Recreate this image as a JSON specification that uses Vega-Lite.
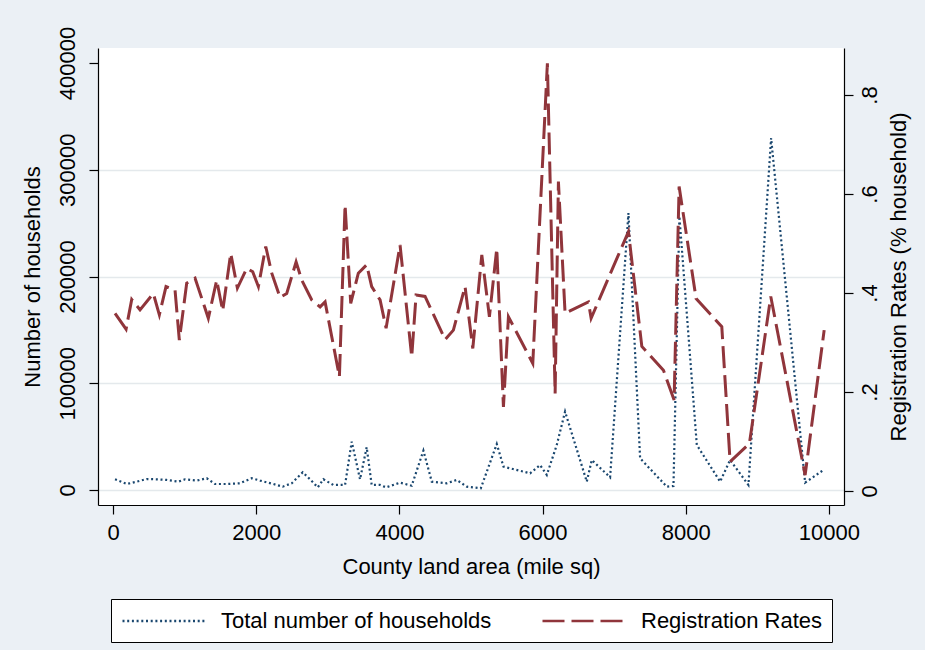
{
  "$schema": "https://vega.github.io/schema/vega-lite/v6.json",
  "autosize": {"type": "none"},
  "width": 746,
  "height": 457,
  "padding": {"left": 98, "top": 48, "right": 81, "bottom": 145},
  "background": "#EBF0F5",
  "config": {
    "view": {"stroke": null, "fill": "#ffffff"},
    "font": "Liberation Sans",
    "axis": {
      "domainColor": "#000000",
      "tickColor": "#000000",
      "labelColor": "#000000",
      "titleColor": "#000000",
      "labelFont": "Liberation Sans",
      "titleFont": "Liberation Sans",
      "titleFontWeight": "normal",
      "labelFontSize": 22,
      "titleFontSize": 22,
      "tickSize": 9,
      "domainWidth": 1.2,
      "tickWidth": 1.2
    }
  },
  "data": {
    "values": [
      {"series": "Total number of households", "area": 28, "value": 10000},
      {"series": "Total number of households", "area": 191, "value": 5600},
      {"series": "Total number of households", "area": 331, "value": 7800},
      {"series": "Total number of households", "area": 471, "value": 10300},
      {"series": "Total number of households", "area": 610, "value": 10000},
      {"series": "Total number of households", "area": 750, "value": 9400},
      {"series": "Total number of households", "area": 912, "value": 7800},
      {"series": "Total number of households", "area": 1006, "value": 10000},
      {"series": "Total number of households", "area": 1169, "value": 8800},
      {"series": "Total number of households", "area": 1309, "value": 11000},
      {"series": "Total number of households", "area": 1425, "value": 5600},
      {"series": "Total number of households", "area": 1588, "value": 5600},
      {"series": "Total number of households", "area": 1774, "value": 6300},
      {"series": "Total number of households", "area": 1937, "value": 11000},
      {"series": "Total number of households", "area": 2053, "value": 8800},
      {"series": "Total number of households", "area": 2240, "value": 5600},
      {"series": "Total number of households", "area": 2370, "value": 3100},
      {"series": "Total number of households", "area": 2496, "value": 6300},
      {"series": "Total number of households", "area": 2650, "value": 16600},
      {"series": "Total number of households", "area": 2752, "value": 10000},
      {"series": "Total number of households", "area": 2860, "value": 2500},
      {"series": "Total number of households", "area": 2938, "value": 10000},
      {"series": "Total number of households", "area": 3078, "value": 4700},
      {"series": "Total number of households", "area": 3241, "value": 4700},
      {"series": "Total number of households", "area": 3334, "value": 45300},
      {"series": "Total number of households", "area": 3450, "value": 10000},
      {"series": "Total number of households", "area": 3543, "value": 40000},
      {"series": "Total number of households", "area": 3613, "value": 4700},
      {"series": "Total number of households", "area": 3730, "value": 4700},
      {"series": "Total number of households", "area": 3814, "value": 2500},
      {"series": "Total number of households", "area": 4009, "value": 6900},
      {"series": "Total number of households", "area": 4172, "value": 4000},
      {"series": "Total number of households", "area": 4335, "value": 36900},
      {"series": "Total number of households", "area": 4452, "value": 7800},
      {"series": "Total number of households", "area": 4661, "value": 6300},
      {"series": "Total number of households", "area": 4801, "value": 9400},
      {"series": "Total number of households", "area": 4941, "value": 3100},
      {"series": "Total number of households", "area": 5137, "value": 1600},
      {"series": "Total number of households", "area": 5360, "value": 43100},
      {"series": "Total number of households", "area": 5453, "value": 21900},
      {"series": "Total number of households", "area": 5825, "value": 15600},
      {"series": "Total number of households", "area": 5965, "value": 23400},
      {"series": "Total number of households", "area": 6059, "value": 14100},
      {"series": "Total number of households", "area": 6198, "value": 42200},
      {"series": "Total number of households", "area": 6314, "value": 73400},
      {"series": "Total number of households", "area": 6617, "value": 7800},
      {"series": "Total number of households", "area": 6687, "value": 28100},
      {"series": "Total number of households", "area": 6943, "value": 11900},
      {"series": "Total number of households", "area": 7199, "value": 259400},
      {"series": "Total number of households", "area": 7362, "value": 29700},
      {"series": "Total number of households", "area": 7735, "value": 3100},
      {"series": "Total number of households", "area": 7828, "value": 3700},
      {"series": "Total number of households", "area": 7911, "value": 256200},
      {"series": "Total number of households", "area": 8154, "value": 42200},
      {"series": "Total number of households", "area": 8480, "value": 7800},
      {"series": "Total number of households", "area": 8619, "value": 28100},
      {"series": "Total number of households", "area": 8875, "value": 4700},
      {"series": "Total number of households", "area": 9192, "value": 329700},
      {"series": "Total number of households", "area": 9667, "value": 6900},
      {"series": "Total number of households", "area": 9923, "value": 18700},
      {"series": "Registration Rates", "area": 28, "value": 0.359},
      {"series": "Registration Rates", "area": 182, "value": 0.327},
      {"series": "Registration Rates", "area": 261, "value": 0.387},
      {"series": "Registration Rates", "area": 377, "value": 0.366},
      {"series": "Registration Rates", "area": 563, "value": 0.399},
      {"series": "Registration Rates", "area": 647, "value": 0.356},
      {"series": "Registration Rates", "area": 740, "value": 0.413},
      {"series": "Registration Rates", "area": 866, "value": 0.406},
      {"series": "Registration Rates", "area": 926, "value": 0.305},
      {"series": "Registration Rates", "area": 1029, "value": 0.42},
      {"series": "Registration Rates", "area": 1146, "value": 0.43},
      {"series": "Registration Rates", "area": 1331, "value": 0.349},
      {"series": "Registration Rates", "area": 1448, "value": 0.426},
      {"series": "Registration Rates", "area": 1532, "value": 0.364},
      {"series": "Registration Rates", "area": 1644, "value": 0.48},
      {"series": "Registration Rates", "area": 1737, "value": 0.41},
      {"series": "Registration Rates", "area": 1868, "value": 0.45},
      {"series": "Registration Rates", "area": 1951, "value": 0.443},
      {"series": "Registration Rates", "area": 2030, "value": 0.413},
      {"series": "Registration Rates", "area": 2133, "value": 0.494},
      {"series": "Registration Rates", "area": 2217, "value": 0.44},
      {"series": "Registration Rates", "area": 2333, "value": 0.391},
      {"series": "Registration Rates", "area": 2426, "value": 0.399},
      {"series": "Registration Rates", "area": 2557, "value": 0.463},
      {"series": "Registration Rates", "area": 2636, "value": 0.426},
      {"series": "Registration Rates", "area": 2776, "value": 0.386},
      {"series": "Registration Rates", "area": 2892, "value": 0.372},
      {"series": "Registration Rates", "area": 2962, "value": 0.382},
      {"series": "Registration Rates", "area": 3162, "value": 0.231},
      {"series": "Registration Rates", "area": 3241, "value": 0.578},
      {"series": "Registration Rates", "area": 3320, "value": 0.379},
      {"series": "Registration Rates", "area": 3426, "value": 0.44},
      {"series": "Registration Rates", "area": 3543, "value": 0.457},
      {"series": "Registration Rates", "area": 3613, "value": 0.413},
      {"series": "Registration Rates", "area": 3730, "value": 0.386},
      {"series": "Registration Rates", "area": 3814, "value": 0.329},
      {"series": "Registration Rates", "area": 4009, "value": 0.497},
      {"series": "Registration Rates", "area": 4172, "value": 0.271},
      {"series": "Registration Rates", "area": 4233, "value": 0.396},
      {"series": "Registration Rates", "area": 4358, "value": 0.393},
      {"series": "Registration Rates", "area": 4638, "value": 0.306},
      {"series": "Registration Rates", "area": 4754, "value": 0.325},
      {"series": "Registration Rates", "area": 4917, "value": 0.413},
      {"series": "Registration Rates", "area": 5025, "value": 0.288},
      {"series": "Registration Rates", "area": 5151, "value": 0.477},
      {"series": "Registration Rates", "area": 5257, "value": 0.352},
      {"series": "Registration Rates", "area": 5360, "value": 0.49},
      {"series": "Registration Rates", "area": 5453, "value": 0.17},
      {"series": "Registration Rates", "area": 5523, "value": 0.352},
      {"series": "Registration Rates", "area": 5863, "value": 0.258},
      {"series": "Registration Rates", "area": 6067, "value": 0.864},
      {"series": "Registration Rates", "area": 6175, "value": 0.197},
      {"series": "Registration Rates", "area": 6221, "value": 0.625},
      {"series": "Registration Rates", "area": 6314, "value": 0.359},
      {"series": "Registration Rates", "area": 6640, "value": 0.382},
      {"series": "Registration Rates", "area": 6678, "value": 0.349},
      {"series": "Registration Rates", "area": 7199, "value": 0.524},
      {"series": "Registration Rates", "area": 7386, "value": 0.292},
      {"series": "Registration Rates", "area": 7688, "value": 0.244},
      {"series": "Registration Rates", "area": 7837, "value": 0.184},
      {"series": "Registration Rates", "area": 7907, "value": 0.615},
      {"series": "Registration Rates", "area": 8144, "value": 0.389},
      {"series": "Registration Rates", "area": 8503, "value": 0.332},
      {"series": "Registration Rates", "area": 8619, "value": 0.059},
      {"series": "Registration Rates", "area": 8889, "value": 0.096},
      {"series": "Registration Rates", "area": 9187, "value": 0.393},
      {"series": "Registration Rates", "area": 9667, "value": 0.032},
      {"series": "Registration Rates", "area": 9933, "value": 0.325}
    ]
  },
  "encoding": {
    "x": {
      "field": "area",
      "type": "quantitative",
      "title": "County land area (mile sq)",
      "scale": {"domain": [-210, 10210], "nice": false, "zero": false},
      "axis": {
        "values": [0, 2000, 4000, 6000, 8000, 10000],
        "format": "d",
        "grid": false,
        "labelPadding": 8,
        "titlePadding": 13
      }
    },
    "color": {
      "field": "series",
      "type": "nominal",
      "scale": {
        "domain": ["Total number of households", "Registration Rates"],
        "range": ["#1A476F", "#90353B"]
      },
      "legend": {
        "orient": "none",
        "legendX": 13,
        "legendY": 551,
        "direction": "horizontal",
        "title": null,
        "strokeColor": "#000000",
        "fillColor": "#ffffff",
        "padding": 10,
        "labelFontSize": 22,
        "labelFont": "Liberation Sans",
        "labelColor": "#000000",
        "labelLimit": 500,
        "symbolType": "M-1,0H7",
        "symbolSize": 441,
        "symbolStrokeWidth": 2.5,
        "labelOffset": 76,
        "columnPadding": 45
      }
    },
    "strokeDash": {
      "field": "series",
      "type": "nominal",
      "scale": {
        "domain": ["Total number of households", "Registration Rates"],
        "range": [[2, 2.7], [22, 7]]
      },
      "legend": {
        "orient": "none",
        "legendX": 13,
        "legendY": 551,
        "direction": "horizontal",
        "title": null,
        "strokeColor": "#000000",
        "fillColor": "#ffffff",
        "padding": 10,
        "labelFontSize": 22,
        "labelFont": "Liberation Sans",
        "labelColor": "#000000",
        "labelLimit": 500,
        "symbolType": "M-1,0H7",
        "symbolSize": 441,
        "symbolStrokeWidth": 2.5,
        "labelOffset": 76,
        "columnPadding": 45
      }
    }
  },
  "layer": [
    {
      "transform": [{"filter": "datum.series === 'Total number of households'"}],
      "mark": {"type": "line", "strokeWidth": 2.2, "strokeCap": "butt"},
      "encoding": {
        "y": {
          "field": "value",
          "type": "quantitative",
          "title": "Number of households",
          "scale": {"domain": [-14060, 414060], "nice": false, "zero": false},
          "axis": {
            "orient": "left",
            "values": [0, 100000, 200000, 300000, 400000],
            "format": "d",
            "grid": true,
            "gridColor": "#E4E9EC",
            "gridWidth": 1.5,
            "gridOpacity": {"condition": {"test": "datum.value > 350000", "value": 0}, "value": 1},
            "labelAngle": -90,
            "labelAlign": "center",
            "labelBaseline": "bottom",
            "labelPadding": 10,
            "titlePadding": 12
          }
        }
      }
    },
    {
      "transform": [{"filter": "datum.series === 'Registration Rates'"}],
      "mark": {"type": "line", "strokeWidth": 3, "strokeCap": "butt"},
      "encoding": {
        "y": {
          "field": "value",
          "type": "quantitative",
          "title": "Registration Rates (% household)",
          "scale": {"domain": [-0.0283, 0.895], "nice": false, "zero": false},
          "axis": {
            "orient": "right",
            "values": [0, 0.2, 0.4, 0.6, 0.8],
            "labelExpr": "datum.value == 0 ? '0' : replace(format(datum.value, '.1f'), '0.', '.')",
            "grid": false,
            "labelAngle": -90,
            "labelAlign": "center",
            "labelBaseline": "top",
            "labelPadding": 6,
            "titleAngle": 270,
            "titleBaseline": "top",
            "titlePadding": 8
          }
        }
      }
    }
  ],
  "resolve": {"scale": {"y": "independent"}}
}
